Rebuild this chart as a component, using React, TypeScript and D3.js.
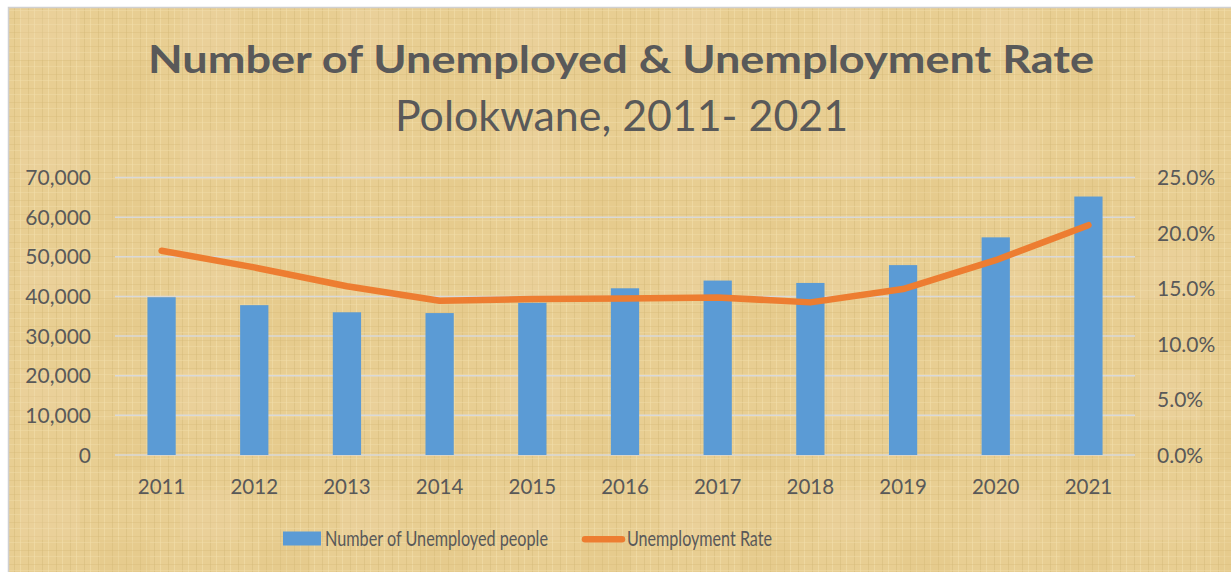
import React from "react";
import * as d3 from "d3";

const years = ["2011","2012","2013","2014","2015","2016","2017","2018","2019","2020","2021"];
const unemployed = [39800, 37800, 36000, 35800, 38400, 42050, 44000, 43400, 47900, 54900, 65200];
const rate = [18.4, 16.9, 15.2, 13.9, 14.05, 14.1, 14.2, 13.75, 14.95, 17.55, 20.7];
const leftTicks = [0, 10000, 20000, 30000, 40000, 50000, 60000, 70000];
const rightTicks = [0, 5, 10, 15, 20, 25];

const W = 1231, H = 572;
const plotL = 115, plotR = 1135, plotT = 177.5, plotB = 455;
const FONT = "Lato, 'Open Sans', sans-serif";
const TXT = "#595959";

export default function App() {
  const x = d3.scaleBand<string>().domain(years).range([plotL, plotR]).paddingInner(0.695).paddingOuter(0.35);
  const yL = d3.scaleLinear().domain([0, 70000]).range([plotB, plotT]);
  const yR = d3.scaleLinear().domain([0, 25]).range([plotB, plotT]);
  const fmt = d3.format(",");
  const line = d3.line<number>().x((_, i) => (x(years[i]) as number) + x.bandwidth() / 2).y((d) => yR(d));
  return (
    <svg width={W} height={H} style={{ position: "absolute", left: 0, top: 0 }}>
      <defs>
        <pattern id="weave" width="14" height="14" patternUnits="userSpaceOnUse">
          <rect width="14" height="14" fill="#E8CE92" />
          <rect x="0" y="0" width="1" height="14" fill="#D4B878" opacity="0.45" />
          <rect x="6" y="0" width="1" height="14" fill="#F3E1B0" opacity="0.5" />
          <rect x="0" y="4" width="14" height="1" fill="#D2B676" opacity="0.35" />
          <rect x="0" y="10" width="14" height="1" fill="#F2DEAA" opacity="0.45" />
        </pattern>
        <pattern id="blotch" width="160" height="120" patternUnits="userSpaceOnUse">
          <rect width="160" height="120" fill="none" />
          <rect x="20" y="10" width="60" height="50" fill="#F0D9B0" opacity="0.25" />
          <rect x="100" y="60" width="50" height="50" fill="#DCC07A" opacity="0.2" />
        </pattern>
      </defs>
      <rect x={0} y={0} width={W} height={H} fill="#fff" />
      <rect x={8.5} y={7.5} width={W} height={H} fill="url(#weave)" stroke="#D0D0D0" strokeWidth={1.5} />
      <rect x={9} y={8} width={W} height={H} fill="url(#blotch)" />
      <text x={621} y={73} textAnchor="middle" fontFamily={FONT} fontWeight={700} fontSize={38} fill={TXT} textLength={946} lengthAdjust="spacingAndGlyphs">Number of Unemployed &amp; Unemployment Rate</text>
      <text x={621.5} y={131} textAnchor="middle" fontFamily={FONT} fontSize={42} fill={TXT} textLength={453} lengthAdjust="spacingAndGlyphs">Polokwane, 2011- 2021</text>
      {leftTicks.map((t) => (
        <g key={t}>
          <line x1={plotL} x2={plotR} y1={yL(t)} y2={yL(t)} stroke="#D9D9D9" strokeWidth={1.5} />
          <text x={91} y={yL(t) + 7.5} textAnchor="end" fontFamily={FONT} fontSize={21} fill={TXT}>{t === 0 ? "0" : fmt(t)}</text>
        </g>
      ))}
      {rightTicks.map((t) => (
        <text key={t} x={1157} y={yR(t) + 7.5} textAnchor="start" fontFamily={FONT} fontSize={21} fill={TXT}>{t.toFixed(1) + "%"}</text>
      ))}
      {years.map((yr, i) => (
        <g key={yr}>
          <rect x={x(yr)} y={yL(unemployed[i])} width={x.bandwidth()} height={plotB - yL(unemployed[i])} fill="#5B9BD5" />
          <text x={(x(yr) as number) + x.bandwidth() / 2} y={494} textAnchor="middle" fontFamily={FONT} fontSize={20.5} fill={TXT}>{yr}</text>
        </g>
      ))}
      <path d={line(rate) || ""} fill="none" stroke="#ED7D31" strokeWidth={6.5} strokeLinecap="round" strokeLinejoin="round" />
      <rect x={283} y={531.5} width={38} height={14} fill="#5B9BD5" />
      <text x={325} y={546} fontFamily={FONT} fontSize={20.5} fill={TXT} textLength={223} lengthAdjust="spacingAndGlyphs">Number of Unemployed people</text>
      <line x1={585} x2={622} y1={539.3} y2={539.3} stroke="#ED7D31" strokeWidth={6.5} strokeLinecap="round" />
      <text x={627} y={546} fontFamily={FONT} fontSize={20.5} fill={TXT} textLength={145} lengthAdjust="spacingAndGlyphs">Unemployment Rate</text>
    </svg>
  );
}
